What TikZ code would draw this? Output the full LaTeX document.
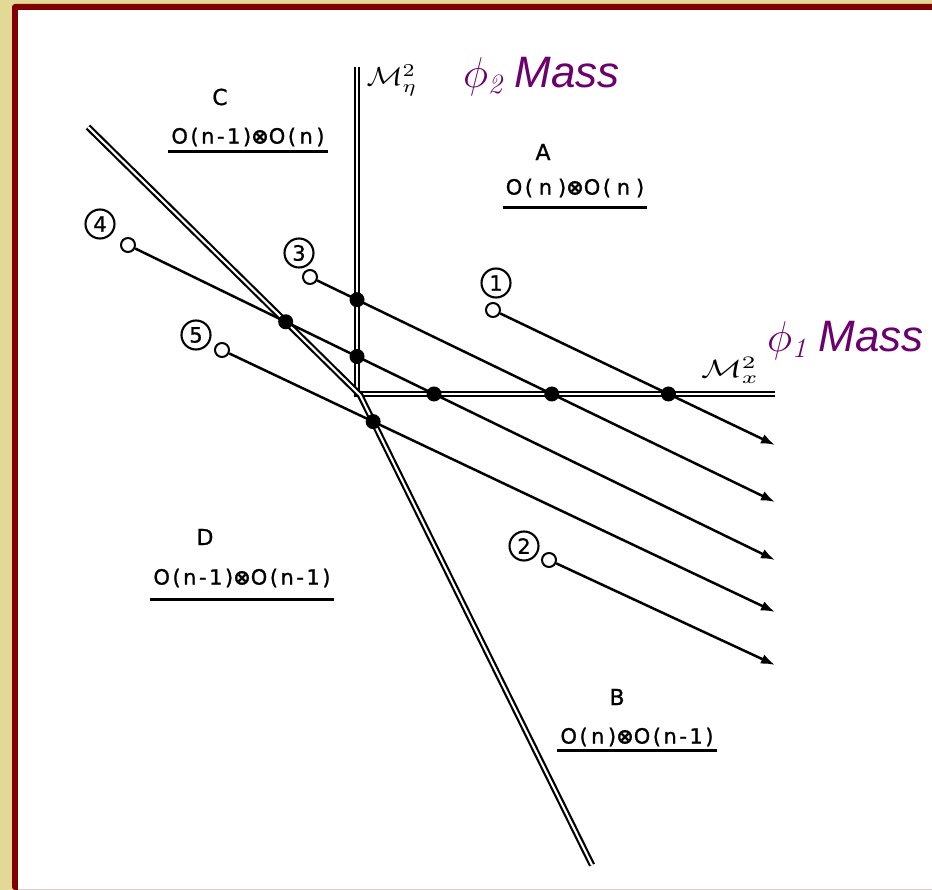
\documentclass[tikz,border=0pt]{standalone}
\usepackage{fontspec}
\usepackage{graphicx}
\newfontfamily\labfont[LetterSpace=12,FakeBold=1]{DejaVu Sans}
\newfontfamily\numfont[FakeBold=1]{DejaVu Sans}
\newfontfamily\massfont{Liberation Sans}
\newcommand{\phisub}[1]{\scalebox{1.73}{$\phi$}\raisebox{-6pt}{\rmfamily\itshape\fontsize{28}{28}\selectfont #1}}
\usetikzlibrary{arrows.meta,calc}
\definecolor{khaki}{RGB}{226,217,151}
\definecolor{framered}{RGB}{128,0,0}
\definecolor{massviolet}{RGB}{108,0,108}
\definecolor{pinkline}{RGB}{228,200,200}
\begin{document}
\begin{tikzpicture}[x=1pt,y=-1pt,
  dbl/.style={draw=black, double=white, line width=2.2pt, double distance=2.1pt},
  traj/.style={draw=black, line width=2.5pt, -{Latex[length=14pt,width=10pt]}},
  opencirc/.style={circle, draw=black, line width=2pt, fill=white, minimum size=14pt, inner sep=0pt},
  numcirc/.style={circle, draw=black, line width=2.1pt, minimum size=29pt, inner sep=0pt, font=\numfont\fontsize{21}{21}\selectfont},
  fdot/.style={circle, fill=black, minimum size=15pt, inner sep=0pt},
  letterlab/.style={inner sep=0pt, font=\numfont\fontsize{22}{22}\selectfont},
  grouplab/.style={inner sep=0pt, font=\labfont\fontsize{21}{21}\selectfont},
  uline/.style={draw=black, line width=2.4pt},
  masslab/.style={text=massviolet, anchor=base west, inner sep=0pt, font=\massfont\itshape\fontsize{44}{44}\selectfont},
  axislab/.style={inner sep=0pt}
]
\useasboundingbox (0,0) rectangle (932,890);
% frame
\fill[khaki] (0,0) rectangle (932,890);
\fill[framered, rounded corners=3pt] (12,4) rectangle (945,890);
\fill[white] (18,10) rectangle (932,888.5);
\fill[pinkline] (18,888.5) rectangle (932,890);

% axes and phase boundaries
\coordinate (Vtop) at (357,67);
\coordinate (Orig) at (357,394);
\coordinate (Xend) at (775,394);
\coordinate (Dtop) at (88,127);
\coordinate (Dkink) at (360,395);
\coordinate (Dbot) at (592,865);
\draw[dbl] (Vtop) -- (Orig) -- (Xend);
\draw[dbl] (Dtop) -- (Dkink) -- (Dbot);

% trajectories
\coordinate (c1) at (493,310); \coordinate (e1) at (775,445);
\coordinate (c2) at (549,560); \coordinate (e2) at (775,665);
\coordinate (c3) at (310,277); \coordinate (e3) at (775,502);
\coordinate (c4) at (128,245); \coordinate (e4) at (775,560);
\coordinate (c5) at (222,350); \coordinate (e5) at (775,612);
\node[opencirc] (s1) at (c1) {};
\node[opencirc] (s2) at (c2) {};
\node[opencirc] (s3) at (c3) {};
\node[opencirc] (s4) at (c4) {};
\node[opencirc] (s5) at (c5) {};
\draw[traj] (s1) -- (e1);
\draw[traj] (s2) -- (e2);
\draw[traj] (s3) -- (e3);
\draw[traj] (s4) -- (e4);
\draw[traj] (s5) -- (e5);

% crossing dots
\node[fdot] (p1)  at (intersection of c1--e1 and Orig--Xend) {};
\node[fdot] (p3a) at (intersection of c3--e3 and Vtop--Orig) {};
\node[fdot] (p3b) at (intersection of c3--e3 and Orig--Xend) {};
\node[fdot] (p4a) at (intersection of c4--e4 and Dtop--Dkink) {};
\node[fdot] (p4b) at (intersection of c4--e4 and Vtop--Orig) {};
\node[fdot] (p4c) at (intersection of c4--e4 and Orig--Xend) {};
\node[fdot] (p5)  at (intersection of c5--e5 and Dkink--Dbot) {};

% circled numbers
\node[numcirc] (n1) at (496,283) {1};
\node[numcirc] (n2) at (524,546) {2};
\node[numcirc] (n3) at (299,253) {3};
\node[numcirc] (n4) at (100,224) {4};
\node[numcirc] (n5) at (196,335) {5};

% region labels
\node[letterlab] (LC) at (220,97) {C};
\node[grouplab] (GC) at (248,137) {O(n-1){\bfseries ⊗}O(\,n\,)};
\node[letterlab] (LA) at (543,152) {A};
\node[grouplab] (GA) at (575,188) {O(\;n\;){\bfseries ⊗}O(\;n\;)};
\node[letterlab] (LD) at (205,537) {D};
\node[grouplab] (GD) at (242,578) {O(n-1){\bfseries ⊗}O(n-1)};
\node[letterlab] (LB) at (617,697) {B};
\node[grouplab] (GB) at (637,737) {O(\,n\,){\bfseries ⊗}O(n-1)};
\draw[uline] ($(GC.south west)+(-3,5)$) -- ($(GC.south east)+(3,5)$);
\draw[uline] ($(GA.south west)+(-3,10)$) -- ($(GA.south east)+(3,10)$);
\draw[uline] ($(GD.south west)+(-3,12)$) -- ($(GD.south east)+(3,12)$);
\draw[uline] ($(GB.south west)+(-3,4)$) -- ($(GB.south east)+(3,4)$);

% axis labels
\node[axislab] (ay) at (392,80) {\scalebox{3}[2.6]{$\mathcal{M}^{2}_{\eta}$}};
\node[axislab] (ax) at (730,370) {\scalebox{3.4}[2.5]{$\mathcal{M}^{2}_{x}$}};

% mass labels
\node[masslab] (mm2) at (463,88) {\phisub{2}\;Mass};
\node[masslab] (mm1) at (767,352) {\phisub{1}\;Mass};
\end{tikzpicture}
\end{document}
